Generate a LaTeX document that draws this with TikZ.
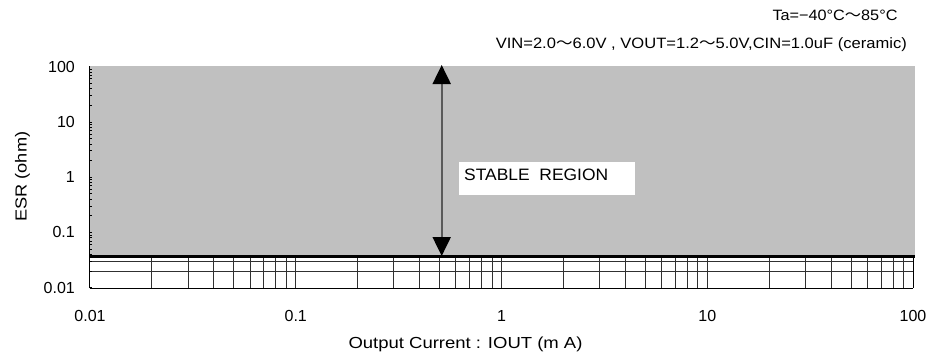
\documentclass[tikz,border=0pt]{standalone}
\usepackage{fontspec}
\setmainfont{Liberation Sans}
\newfontfamily\jpfont{Noto Sans CJK JP}
\usetikzlibrary{arrows.meta}
\definecolor{regiongray}{HTML}{C0C0C0}
\definecolor{arrowgray}{HTML}{5A5A5A}
\definecolor{gridline}{HTML}{303030}
\newcommand\fitw[2]{\resizebox{#1}{\height}{#2}}
\begin{document}
\begin{tikzpicture}[x=1pt,y=-1pt,
  numlabel/.style={inner sep=0pt,font=\fontsize{16}{19}\selectfont},
  titlelabel/.style={inner sep=0pt,font=\fontsize{16}{19}\selectfont},
  toplabel/.style={inner sep=0pt,font=\fontsize{15}{18}\selectfont},
  gridthin/.style={gridline,line width=0.9pt},
  axisline/.style={black,line width=1pt},
  stablearrow/.style={arrowgray,line width=2pt,
    {Triangle[width=18pt,length=19pt,color=black]}-{Triangle[width=18pt,length=19pt,color=black]}}
]
\useasboundingbox (0,0) rectangle (929,351);
% stable region fill
\fill[regiongray] (90,66) rectangle (915,256);
% horizontal grid lines in unstable strip (0.02, 0.03)
\draw[gridthin] (90,271.1) -- (913,271.1);
\draw[gridthin] (90,261.3) -- (913,261.3);
% vertical grid lines
\foreach \d in {0,1,2,3}{
  \foreach \m in {2,...,10}{
    \pgfmathsetmacro\xx{90+205.75*(\d+log10(\m))}
    \draw[gridthin] (\xx,256) -- (\xx,288);
  }
}
% y-axis minor ticks
\foreach \d in {0,1,2,3}{
  \foreach \m in {1,...,9}{
    \pgfmathsetmacro\yy{287.7-55.3*(\d+log10(\m))}
    \draw[black,line width=0.6pt] (89.5,\yy) -- (91.5,\yy);
  }
}
% borders
\draw[axisline] (89.5,66) -- (89.5,288);
\draw[axisline] (89.5,288) -- (913,288);
\draw[axisline] (913,256) -- (913,288);
% boundary line
\draw[black,line width=3pt] (89.5,256) -- (915,256);
% arrow
\coordinate (arrowtop) at (441.7,65);
\coordinate (arrowbot) at (441.7,256);
\draw[stablearrow] (arrowbot) -- (arrowtop);
% stable region label
\node (stablebox) [fill=white,inner sep=0pt,minimum width=176pt,minimum height=33.3pt,anchor=north west] at (459,161.7) {};
\node (stabletext) [inner sep=0pt,anchor=base west,font=\fontsize{16.5}{19}\selectfont] at (464,180.5) {\fitw{144pt}{STABLE\ \ REGION}};
% y labels
\node (y100) [numlabel,anchor=east] at (75,66.5) {100};
\node (y10) [numlabel,anchor=east] at (75,121.8) {10};
\node (y1) [numlabel,anchor=east] at (75,177.1) {1};
\node (y01) [numlabel,anchor=east] at (75,232.4) {0.1};
\node (y001) [numlabel,anchor=east] at (75,287.7) {0.01};
% x labels
\node (x001) [numlabel] at (90,316) {0.01};
\node (x01) [numlabel] at (295.75,316) {0.1};
\node (x1) [numlabel] at (501.5,316) {1};
\node (x10) [numlabel] at (707.25,316) {10};
\node (x100) [numlabel] at (913,316) {100};
% axis titles
\node (xtitle) [titlelabel,anchor=base] at (465.5,348) {\fitw{234pt}{Output Current : IOUT (m A)}};
\node (ytitle) [titlelabel,anchor=base,rotate=90] at (26.7,176.7) {\fitw{90pt}{ESR (ohm)}};
% condition text
\node (cond1) [toplabel,anchor=base east] at (897.7,20.7) {\fitw{125pt}{Ta=−40°C{\jpfont ～}85°C}};
\node (cond2) [toplabel,anchor=base east] at (907,48.3) {\fitw{411pt}{VIN=2.0{\jpfont ～}6.0V , VOUT=1.2{\jpfont ～}5.0V,CIN=1.0uF (ceramic)}};
\end{tikzpicture}
\end{document}
